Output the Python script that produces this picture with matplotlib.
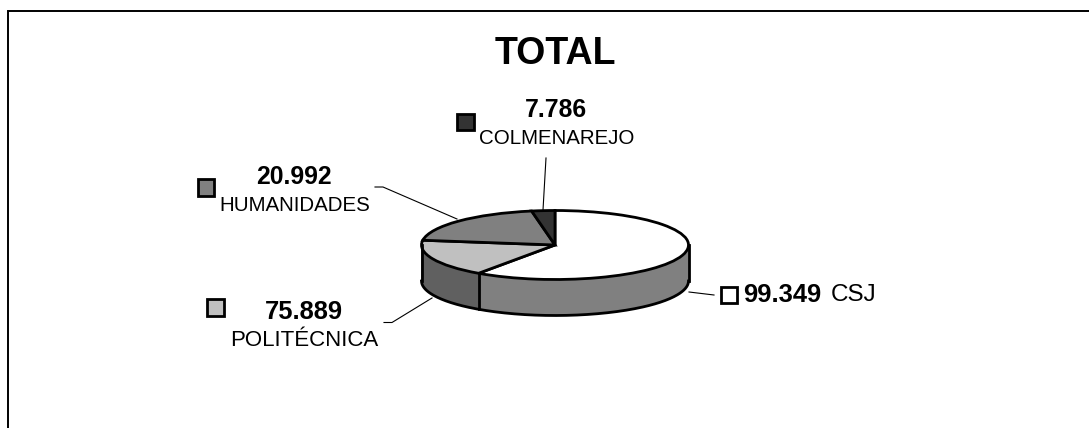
import numpy as np
import matplotlib
matplotlib.use('Agg')
import matplotlib.pyplot as plt
from matplotlib.patches import Rectangle

plt.rcParams['font.family'] = ['Liberation Sans', 'DejaVu Sans']

names = ['CSJ', 'POLITÉCNICA', 'HUMANIDADES', 'COLMENAREJO']
value_labels = ['99.349', '75.889', '20.992', '7.786']
# slice sizes as drawn in the picture (the perspective distorts them)
slice_sizes = [59.7, 17.5, 20.0, 2.8]
top_colors = ['#ffffff', '#c0c0c0', '#808080', '#333333']
wall_colors = ['#808080', '#606060', '#404040', '#1a1a1a']

fig = plt.figure(figsize=(10.89, 4.28), dpi=100)
ax = fig.add_axes([0, 0, 1, 1])
ax.set_xlim(0, 1089)
ax.set_ylim(428, 0)
ax.axis('off')

# only the top and left border of the chart area are visible
ax.plot([1089, 7.5, 7.5], [10.5, 10.5, 428], color='black', lw=1.4, solid_joinstyle='miter')
ax.text(555.5, 54, 'TOTAL', fontsize=27, fontweight='bold', ha='center', va='center')

# pie gets its own axes, stretched so the circle turns into an ellipse
cx, cy, rx, ry = 555, 245, 133.5, 34.5
depth = 36 / ry
pad = 0.05
pie_ax = fig.add_axes([(cx - rx * (1 + pad)) / 1089,
                       (428 - cy - ry * (1 + pad + depth)) / 428,
                       2 * rx * (1 + pad) / 1089,
                       ry * (2 + 2 * pad + depth) / 428])

# wall of the pie: stacked discs from the bottom up
for d in np.linspace(depth, 0, 70):
    pie_ax.pie(slice_sizes, colors=wall_colors, startangle=90, counterclock=False, center=(0, -d),
               wedgeprops={'linewidth': 0})

# outline of the wall: bottom rim, both sides and the first slice boundary on the front
t = np.linspace(np.pi, 2 * np.pi, 200)
pie_ax.plot(np.cos(t), np.sin(t) - depth, color='black', lw=2)
bounds = 90 - 360 * np.cumsum(slice_sizes) / np.sum(slice_sizes)
front_a = np.radians(bounds[0])
pie_ax.plot([1, 1], [0, -depth], color='black', lw=2)
pie_ax.plot([-1, -1], [0, -depth], color='black', lw=2)
pie_ax.plot([np.cos(front_a)] * 2, [np.sin(front_a), np.sin(front_a) - depth], color='black', lw=2)

pie_ax.pie(slice_sizes, colors=top_colors, startangle=90, counterclock=False,
           wedgeprops={'edgecolor': 'black', 'linewidth': 2})
pie_ax.set_aspect('auto')
pie_ax.set_xlim(-1 - pad, 1 + pad)
pie_ax.set_ylim(-1 - pad - depth, 1 + pad)
pie_ax.set_zorder(2)

# leader lines
ax.plot([689, 714], [292, 295], color='black', lw=0.8)
ax.plot([432, 392, 384], [298, 322.5, 322.5], color='black', lw=0.8)
ax.plot([457, 383, 375], [219, 187, 187], color='black', lw=0.8)
ax.plot([543, 546], [210, 158], color='black', lw=0.8)

# swatches
swatch_x = [720.5, 207, 197.5, 457]
swatch_y = [286.5, 299, 179, 113.5]
for c, x, y in zip(top_colors, swatch_x, swatch_y):
    ax.add_patch(Rectangle((x, y), 16.5, 16.5, facecolor=c, edgecolor='black', lw=2))

bold = {'fontweight': 'bold', 'va': 'center'}
reg = {'va': 'center'}

ax.text(743, 295, value_labels[0], ha='left', fontsize=18.4, **bold)
ax.text(831, 295, names[0], ha='left', fontsize=17.5, **reg)
ax.text(304, 312, value_labels[1], ha='center', fontsize=18.4, **bold)
ax.text(304, 341, names[1], ha='center', fontsize=16, **reg)
ax.text(294, 177, value_labels[2], ha='center', fontsize=17.8, **bold)
ax.text(295, 205, names[2], ha='center', fontsize=14.8, **reg)
ax.text(556, 110, value_labels[3], ha='center', fontsize=17.8, **bold)
ax.text(557, 139, names[3], ha='center', fontsize=14.8, **reg)

fig.savefig('out.png', dpi=100)
